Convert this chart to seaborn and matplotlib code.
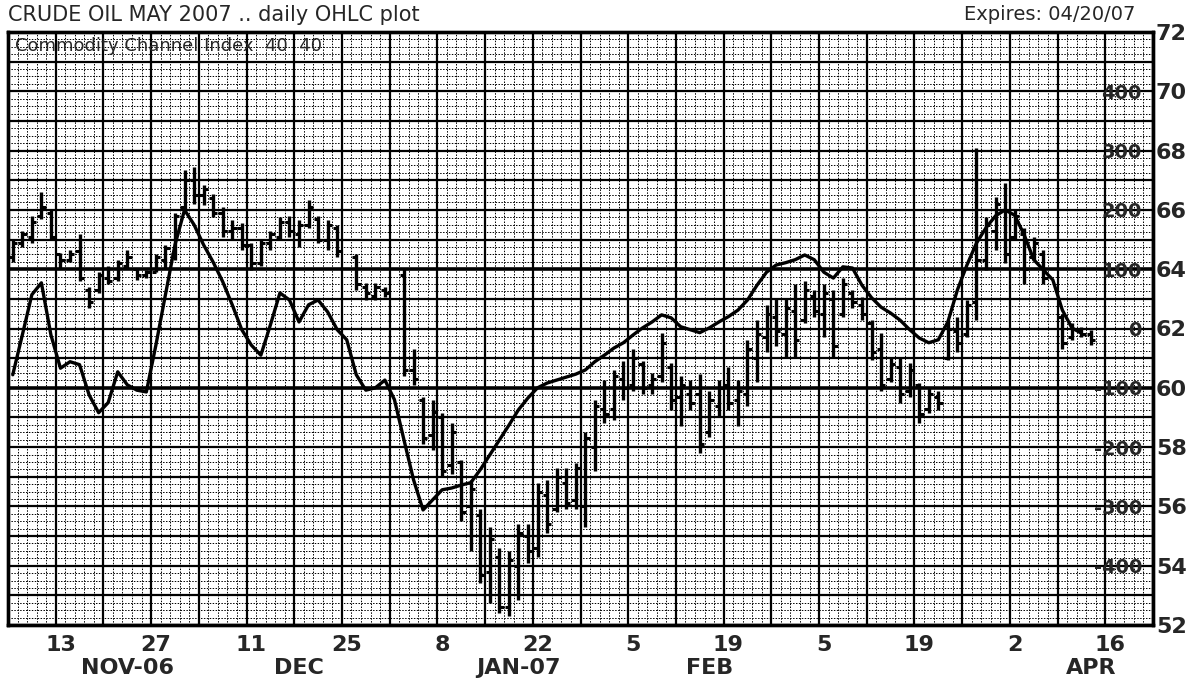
import numpy as np
import pandas as pd
import seaborn as sns
import matplotlib
matplotlib.use('Agg')
import matplotlib.pyplot as plt

# one slot per weekday, starting Mon 06-Nov-2006 ; None = no bar that day
opens = [64.4, 64.9, 65.1, 65.8, 65.9, 64.5, 64.3, 64.6, 63.3, 63.3,
         63.7, 63.7, 64.1, 64.0, 63.8, 63.9, 64.3, 64.5, 66.1, 67.0,
         66.5, 66.4, 65.9, 65.3, 65.4, 64.8, 64.2, 64.9, 65.1, 65.6,
         65.2, 65.5, 65.7, 65.0, 65.4, None, 64.4, 63.4, 63.1, 63.3,
         None, 63.8, 60.6, 59.6, 58.4, 59.0, 57.4, 57.5, 56.0, 55.7,
         53.8, 54.3, 52.6, 54.0, 55.0, 54.6, 56.4, 55.9, 56.8, 56.2,
         56.0, 58.0, 59.3, 59.3, 60.3, 60.1, 60.8, 60.1, 60.4, 60.7,
         59.7, 59.8, 59.8, 58.5, 59.4, 60.1, 59.6, 59.8, 61.0, 61.7,
         62.4, 61.8, 62.6, 62.3, 63.1, 62.5, 63.0, 62.5, 63.2, 62.8,
         62.2, 61.3, 60.3, 60.7, 59.9, 60.1, 59.3, 59.7, 61.0, 61.9,
         61.8, 62.9, 64.3, 65.3, 66.0, 65.1, 65.2, 64.4, 64.5, None,
         62.4, 61.7, 61.9, 61.8]
highs = [65.0, 65.3, 65.8, 66.6, 66.0, 64.55, 64.65, 65.2, 63.4, 63.9,
         64.1, 64.3, 64.65, 64.05, 63.97, 64.5, 64.8, 65.9, 67.35, 67.45,
         66.85, 66.55, 66.1, 65.65, 65.55, 64.9, 65.0, 65.3, 65.75, 65.8,
         65.65, 66.35, 65.8, 65.65, 65.5, None, 64.5, 63.55, 63.55, 63.4,
         None, 64.05, 61.3, 59.7, 59.6, 59.15, 58.8, 57.57, 56.9, 55.9,
         55.3, 54.6, 54.5, 55.4, 55.4, 56.8, 56.9, 57.3, 57.3, 57.45,
         58.5, 59.6, 60.25, 60.6, 60.9, 61.3, 60.9, 60.5, 61.85, 60.85,
         60.4, 60.25, 60.45, 59.9, 60.25, 60.7, 60.25, 61.6, 62.3, 62.8,
         63.0, 63.0, 63.5, 63.6, 63.3, 63.5, 63.3, 63.7, 63.3, 63.05,
         62.3, 61.85, 61.0, 61.0, 60.85, 60.15, 60.0, 59.9, 62.3, 62.4,
         62.95, 68.1, 65.75, 66.45, 66.9, 66.0, 65.4, 65.1, 64.65, None,
         62.5, 62.2, 62.05, 61.95]
lows = [64.25, 64.75, 64.9, 65.7, 65.0, 64.0, 64.25, 63.6, 62.7, 63.2,
        63.5, 63.6, 64.0, 63.65, 63.7, 63.9, 64.05, 64.3, 66.0, 66.2,
        66.15, 65.75, 65.1, 65.0, 64.65, 63.97, 64.1, 64.65, 65.0, 65.1,
        64.75, 65.4, 64.9, 64.65, 64.4, None, 63.3, 62.95, 62.95, 63.05,
        None, 60.4, 60.1, 58.1, 57.9, 57.0, 57.1, 55.5, 54.5, 53.4,
        52.75, 52.4, 52.3, 52.85, 54.1, 54.3, 55.1, 55.8, 55.9, 55.9,
        55.3, 57.2, 58.8, 58.9, 59.6, 59.9, 59.8, 59.8, 60.2, 59.25,
        58.7, 59.25, 57.8, 58.35, 59.0, 59.25, 58.7, 59.4, 60.2, 61.2,
        61.4, 61.0, 61.0, 62.2, 62.4, 61.7, 61.0, 62.4, 62.7, 62.3,
        60.95, 59.9, 60.2, 59.5, 59.7, 58.8, 59.15, 59.25, 60.95, 61.2,
        61.7, 62.3, 63.97, 64.65, 64.2, 64.98, 63.5, 64.3, 63.5, None,
        61.3, 61.6, 61.7, 61.45]
closes = [64.9, 65.2, 65.6, 66.1, 65.1, 64.3, 64.5, 63.7, 62.9, 63.8,
          63.6, 64.2, 64.4, 63.8, 63.9, 64.4, 64.7, 65.8, 67.0, 66.5,
          66.7, 65.9, 65.3, 65.4, 64.8, 64.2, 64.9, 65.2, 65.6, 65.3,
          65.5, 66.1, 65.0, 65.5, 64.6, None, 63.5, 63.2, 63.4, 63.2,
          None, 60.6, 60.3, 58.3, 59.2, 57.2, 58.5, 55.8, 56.6, 53.7,
          54.9, 52.6, 54.2, 55.1, 54.5, 56.5, 55.4, 57.0, 56.1, 57.3,
          58.3, 59.4, 59.1, 60.4, 60.0, 61.0, 60.0, 60.3, 61.5, 59.6,
          60.1, 59.5, 58.1, 59.6, 60.0, 59.5, 59.9, 61.3, 61.8, 62.5,
          61.9, 62.7, 61.6, 63.3, 62.6, 63.2, 61.4, 63.5, 62.9, 62.5,
          61.2, 60.1, 60.8, 59.8, 60.6, 59.1, 59.8, 59.5, 62.0, 61.5,
          62.8, 64.3, 65.5, 66.2, 64.5, 65.8, 64.0, 64.9, 63.7, None,
          61.5, 62.0, 61.8, 61.6]

# commodity channel index (40), same slots
cci_values = [-78, -11, 57, 77, -11, -67, -56, -61, -112, -142,
              -125, -73, -95, -104, -107, -28, 57, 141, 200, 175,
              141, 112, 79, 40, -2, -28, -45, 6, 60, 48,
              11, 40, 48, 28, -2, -19, -78, -104, -100, -87,
              -120, -188, -255, -306, -289, -272, -269, -264, -260, -238,
              -213, -188, -163, -137, -117, -100, -92, -87, -82, -77,
              -70, -56, -45, -33, -24, -11, 1, 11, 23, 18,
              3, -2, -7, 1, 11, 20, 31, 48, 73, 95,
              107, 111, 116, 124, 116, 95, 85, 104, 102, 73,
              52, 36, 26, 14, -2, -16, -24, -19, 11, 65,
              107, 144, 170, 190, 200, 191, 158, 116, 99, 82,
              31, 1, -8]

price_ticks = [72, 70, 68, 66, 64, 62, 60, 58, 56, 54, 52]
cci_ticks = [400, 300, 200, 100, 0, -100, -200, -300, -400]
day_labels = ['13', '27', '11', '25', '8', '22', '5', '19', '5', '19', '2', '16']
month_labels = ['NOV-06', 'DEC', 'JAN-07', 'FEB', 'MAR', 'APR']

N_SLOTS = 120
day_slots = list(range(5, N_SLOTS, 10))
month_slots = [12, 30, 53, 73, 95, 113]

bars = pd.DataFrame({'open': opens, 'high': highs, 'low': lows, 'close': closes}, dtype=float)
bars['slot'] = bars.index
bars = bars.dropna()
cci = pd.DataFrame({'slot': range(len(cci_values)), 'cci': cci_values})

sns.set_style('white')
plt.rcParams['font.family'] = ['DejaVu Sans']

fig = plt.figure(figsize=(11.95, 6.85), dpi=100)
ax = fig.add_axes([8 / 1195, 60 / 685, 1145 / 1195, 593 / 685])
ax.set_xlim(-0.5, N_SLOTS - 0.5)
ax.set_ylim(52, 72)
ax2 = ax.twinx()   # CCI scale, made first so it doesn't move the price ticks back left

# chart paper grid: daily / weekly verticals, quarter / whole-dollar horizontals
for s in np.arange(-0.5, N_SLOTS, 1.0):
    if (s + 0.5) % 5 == 0:
        ax.axvline(s, color='black', lw=1.6, zorder=1)
    else:
        ax.axvline(s, color='black', lw=0.7, ls=(0, (1.5, 1.5)), zorder=1)
for p in np.arange(52, 72.001, 0.25):
    if p in (60, 64):
        ax.axhline(p, color='black', lw=2.6, zorder=1)
    elif p % 1 == 0:
        ax.axhline(p, color='black', lw=1.6, zorder=1)
    else:
        ax.axhline(p, color='black', lw=0.7, ls=(0, (1.5, 1.5)), zorder=1)

# OHLC bars
ax.vlines(bars['slot'], bars['low'], bars['high'], color='black', lw=2.4, zorder=3)
ax.hlines(bars['open'], bars['slot'] - 0.45, bars['slot'], color='black', lw=2.2, zorder=3)
ax.hlines(bars['close'], bars['slot'], bars['slot'] + 0.45, color='black', lw=2.2, zorder=3)

ax.set_yticks(price_ticks)
ax.yaxis.tick_right()
ax.tick_params(axis='y', left=False, labelleft=False, right=True, labelright=True,
               length=0, pad=2, labelsize=16)
for lbl in ax.get_yticklabels():
    lbl.set_fontweight('bold')

ax.set_xticks(day_slots, day_labels, fontsize=16, fontweight='bold')
ax.set_xticks(month_slots, month_labels, minor=True, fontsize=16, fontweight='bold')
ax.tick_params(axis='x', which='major', length=0, pad=7)
ax.tick_params(axis='x', which='minor', length=0, pad=24)
ax.set_xlabel('')

sns.lineplot(data=cci, x='slot', y='cci', ax=ax2, color='black', linewidth=2.4)
ax2.set_ylim(-500, 500)
ax2.set_yticks(cci_ticks, [str(v) for v in cci_ticks], ha='right', fontsize=14, fontweight='bold')
ax2.tick_params(axis='y', length=0, pad=-8)
ax2.set_ylabel('')
ax2.set_xlabel('')

for a in (ax, ax2):
    for sp in a.spines.values():
        sp.set_visible(True)
        sp.set_color('black')
        sp.set_linewidth(2.4)

ax.text(0.006, 0.992, 'Commodity Channel Index  40  40', transform=ax.transAxes,
        va='top', ha='left', fontsize=13, zorder=5)
fig.text(8 / 1195, 1 - 15 / 685, 'CRUDE OIL MAY 2007 .. daily OHLC plot',
         va='center', ha='left', fontsize=15)
fig.text(1135 / 1195, 1 - 15 / 685, 'Expires: 04/20/07',
         va='center', ha='right', fontsize=14)

fig.savefig('out.png', dpi=100, facecolor='white')
